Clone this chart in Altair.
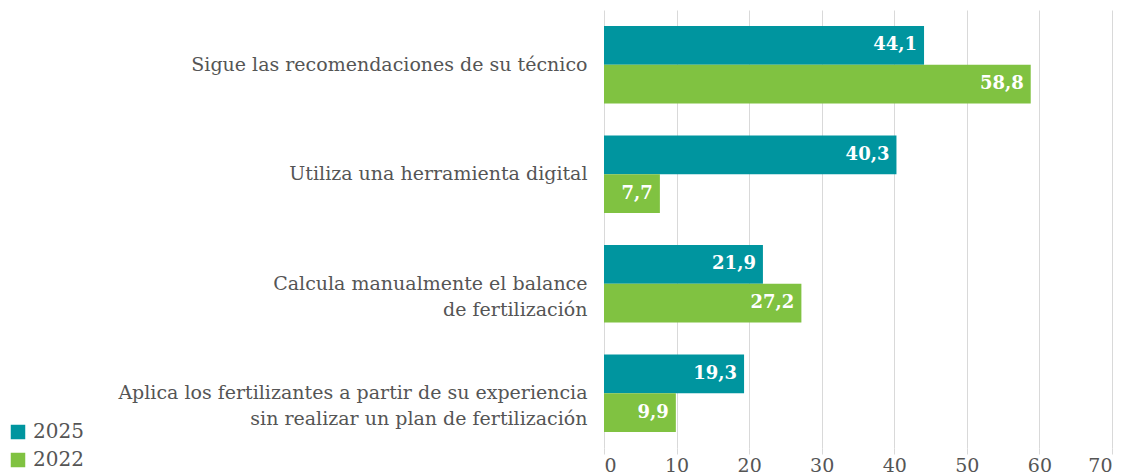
import altair as alt
import pandas as pd

categories = [
    "Sigue las recomendaciones de su técnico",
    "Utiliza una herramienta digital",
    "Calcula manualmente el balance|de fertilización",
    "Aplica los fertilizantes a partir de su experiencia|sin realizar un plan de fertilización",
]
series = ["2025", "2022"]
values_2025 = [44.1, 40.3, 21.9, 19.3]
values_2022 = [58.8, 7.7, 27.2, 9.9]
colors = ["#00959F", "#80C241"]
x_ticks = [0, 10, 20, 30, 40, 50, 60, 70]

rows = []
for c, a, b in zip(categories, values_2025, values_2022):
    rows.append({"cat": c, "serie": "2025", "v": a, "lab": f"{a:.1f}".replace(".", ",")})
    rows.append({"cat": c, "serie": "2022", "v": b, "lab": f"{b:.1f}".replace(".", ",")})
df = pd.DataFrame(rows)

FONT = "DejaVu Serif"

y = alt.Y(
    "cat:N",
    sort=categories,
    title=None,
    scale=alt.Scale(paddingInner=0.29, paddingOuter=0.145),
    axis=alt.Axis(
        domain=False,
        ticks=False,
        labelExpr="split(datum.label, '|')",
        labelFont=FONT,
        labelFontSize=19,
        labelColor="#555555",
        labelPadding=17,
        labelLimit=600,
        labelLineHeight=26,
    ),
)
x = alt.X(
    "v:Q",
    title=None,
    scale=alt.Scale(domain=[0, 70], nice=False),
    axis=alt.Axis(
        values=x_ticks,
        domain=False,
        grid=True,
        gridColor="#D9D9D9",
        tickColor="#D9D9D9",
        tickSize=6,
        labelFont=FONT,
        labelFontSize=19,
        labelColor="#555555",
        labelPadding=2,
    ),
)
yoff = alt.YOffset("serie:N", sort=series)

bars = alt.Chart(df).mark_bar().encode(
    x=x,
    y=y,
    yOffset=yoff,
    color=alt.Color(
        "serie:N",
        scale=alt.Scale(domain=series, range=colors),
        title=None,
        legend=alt.Legend(
            orient="none",
            legendX=-596,
            legendY=412,
            symbolType="square",
            symbolSize=210,
            symbolStrokeWidth=0,
            symbolOpacity=1,
            labelFont=FONT,
            labelFontSize=20,
            labelColor="#555555",
            rowPadding=8,
            labelOffset=5,
        ),
    ),
)

text = alt.Chart(df).mark_text(
    align="right", dx=-7, color="white", font=FONT, fontSize=18, fontWeight="bold"
).encode(x=alt.X("v:Q"), y=alt.Y("cat:N", sort=categories), yOffset=yoff, text="lab:N")

chart = (
    alt.layer(bars, text)
    .properties(width=508, height=438, padding={"left": 0, "top": 2, "right": 5, "bottom": 0})
    .configure_view(stroke=None)
)

chart.save("out.html", embed_options={"renderer": "svg", "actions": False})
